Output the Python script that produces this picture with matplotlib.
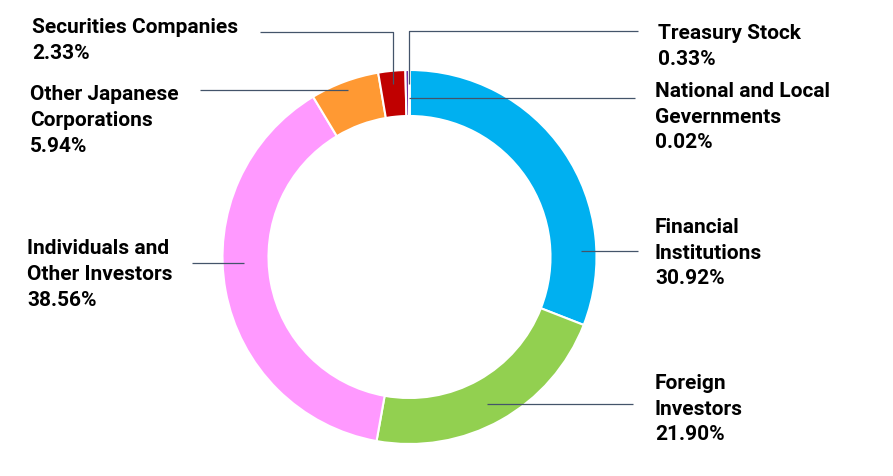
import matplotlib
matplotlib.use("Agg")
import matplotlib.pyplot as plt

categories = ["Financial\nInstitutions", "Foreign\nInvestors", "Individuals and\nOther Investors",
              "Other Japanese\nCorporations", "Securities Companies", "Treasury Stock",
              "National and Local\nGevernments"]
values = [30.92, 21.90, 38.56, 5.94, 2.33, 0.33, 0.02]
colors = ["#00B0F0", "#92D050", "#FF99FF", "#FF9933", "#C00000", "#7030A0", "#4472C4"]

W, H = 893, 477
fig = plt.figure(figsize=(W / 100, H / 100), dpi=100)
ax = fig.add_axes([0, 0, 1, 1])

cx, cy, R = 409.5, H - 258, 187
ax.pie(values, colors=colors, startangle=90, counterclock=False, center=(cx, cy), radius=R,
       wedgeprops=dict(width=46, edgecolor="white", linewidth=1.5), frame=True)
ax.set_xlim(0, W)
ax.set_ylim(0, H)
ax.axis("off")

def Y(y):
    return H - y

lc = "#44546A"
leaders = [
    [(260, 33), (393, 33), (393, 85)],          # Securities
    [(408.5, 85), (408.5, 32), (638, 32)],      # Treasury
    [(409, 99), (635, 99)],                     # National
    [(200, 91), (348, 91)],                     # Other Japanese
    [(192, 264), (244, 264)],                   # Individuals
    [(581, 252), (638, 252)],                   # Financial
    [(487, 405), (633, 405)],                   # Foreign
]
for pts in leaders:
    ax.plot([p[0] for p in pts], [Y(p[1]) for p in pts], color=lc, lw=0.9, solid_capstyle="butt")

font = dict(family=["Roboto", "DejaVu Sans"], fontweight="bold", fontsize=15, color="black",
            ha="left", va="top", linespacing=1.45)
labels = [
    (32, 18, categories[4], values[4]),
    (30, 85, categories[3], values[3]),
    (27, 239, categories[2], values[2]),
    (658, 24, categories[5], values[5]),
    (655, 82, categories[6], values[6]),
    (655, 218, categories[0], values[0]),
    (655, 374, categories[1], values[1]),
]
for x, y, name, v in labels:
    ax.text(x, Y(y), f"{name}\n{v:.2f}%", **font)

fig.savefig("out.png", dpi=100)
